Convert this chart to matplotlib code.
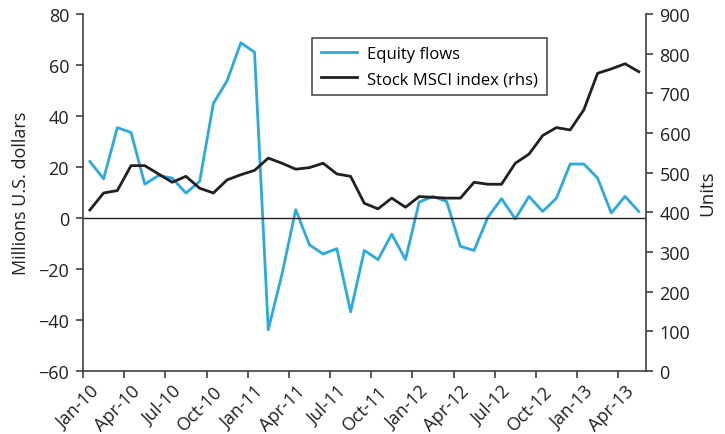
import numpy as np
import matplotlib.pyplot as plt
from matplotlib.ticker import FixedLocator, NullFormatter

plt.rcParams['font.family'] = ['Open Sans', 'DejaVu Sans']

# monthly data, Jan-10 .. May-13
months = ['Jan-10', 'Feb-10', 'Mar-10', 'Apr-10', 'May-10', 'Jun-10', 'Jul-10', 'Aug-10',
          'Sep-10', 'Oct-10', 'Nov-10', 'Dec-10', 'Jan-11', 'Feb-11', 'Mar-11', 'Apr-11',
          'May-11', 'Jun-11', 'Jul-11', 'Aug-11', 'Sep-11', 'Oct-11', 'Nov-11', 'Dec-11',
          'Jan-12', 'Feb-12', 'Mar-12', 'Apr-12', 'May-12', 'Jun-12', 'Jul-12', 'Aug-12',
          'Sep-12', 'Oct-12', 'Nov-12', 'Dec-12', 'Jan-13', 'Feb-13', 'Mar-13', 'Apr-13',
          'May-13']

equity_flows = [22.2, 15.4, 35.5, 33.6, 13.3, 16.7, 15.7, 9.8, 14.4, 45.0,
                53.9, 68.8, 65.1, -43.8, -22.0, 3.3, -10.5, -14.1, -12.0, -36.8,
                -12.7, -16.3, -6.3, -16.3, 6.3, 8.5, 6.5, -11.1, -12.7, 0.3,
                7.6, -0.3, 8.5, 2.6, 7.8, 21.2, 21.2, 15.7, 2.0, 8.5,
                2.6]

msci_index = [406, 449, 455, 518, 518, 497, 476, 491, 461, 449,
              482, 495, 506, 537, 524, 509, 513, 524, 497, 491,
              423, 409, 436, 413, 440, 438, 436, 436, 476, 471,
              471, 524, 547, 594, 614, 608, 659, 751, 762, 775,
              755]

tick_labels = ['Jan-10', 'Apr-10', 'Jul-10', 'Oct-10', 'Jan-11', 'Apr-11', 'Jul-11',
               'Oct-11', 'Jan-12', 'Apr-12', 'Jul-12', 'Oct-12', 'Jan-13', 'Apr-13']

blue = '#29abe2'
dark = '#231f20'
axis_col = '#404040'

x = np.arange(len(months))

fig = plt.figure(figsize=(7.25, 4.35), dpi=100)
ax = fig.add_axes([0.1145, 0.145, 0.776, 0.82])
ax2 = ax.twinx()

l1, = ax.plot(x, equity_flows, color=blue, lw=2.0, label='Equity flows')
l2, = ax2.plot(x, msci_index, color=dark, lw=2.0, label='Stock MSCI index (rhs)')
ax.axhline(0, color=dark, lw=1.0)

ax.set_xlim(-0.5, len(months) - 0.5)
ax.set_ylim(-60, 80)
ax.set_yticks(np.arange(-60, 81, 20))
ax.set_yticklabels(['\u2212%d' % -v if v < 0 else str(v) for v in range(-60, 81, 20)])
ax2.set_ylim(0, 900)
ax2.set_yticks(np.arange(0, 901, 100))

# tick marks on category boundaries, labels on category centres
ax.xaxis.set_major_locator(FixedLocator(np.arange(-0.5, len(months) - 1, 3)))
ax.xaxis.set_major_formatter(NullFormatter())
ax.xaxis.set_minor_locator(FixedLocator(np.arange(0, len(months), 3)))
ax.set_xticklabels(tick_labels, minor=True, rotation=45, ha='right',
                   rotation_mode='anchor', fontsize=13, color='#231f20')
ax.tick_params(axis='x', which='minor', length=0, pad=8)
ax.tick_params(axis='x', which='major', length=5, width=1.2, color=axis_col)
ax.tick_params(axis='y', length=5, width=1.2, color=axis_col, labelsize=13,
               labelcolor='#231f20', pad=5)
ax2.tick_params(axis='y', length=5, width=1.2, color=axis_col, labelsize=13,
                labelcolor='#231f20', pad=5)

for a in (ax, ax2):
    a.spines['top'].set_visible(False)
    for s in ('left', 'right', 'bottom'):
        a.spines[s].set_color(axis_col)
        a.spines[s].set_linewidth(1.2)
ax.spines['right'].set_visible(False)
ax2.spines['left'].set_visible(False)
ax2.spines['bottom'].set_visible(False)

ax.set_ylabel('Millions U.S. dollars', fontsize=13, color='#231f20', labelpad=6)
ax2.set_ylabel('Units', fontsize=13.5, color='#231f20', labelpad=6)

leg = ax2.legend(handles=[l1, l2], loc='upper left', bbox_to_anchor=(0.393, 0.958),
                 fontsize=12, frameon=True, fancybox=False, edgecolor=dark,
                 handlelength=2.2, handletextpad=0.6, borderpad=0.5,
                 labelspacing=0.55)
leg.get_frame().set_linewidth(1.2)

fig.savefig('out.png', dpi=100)
